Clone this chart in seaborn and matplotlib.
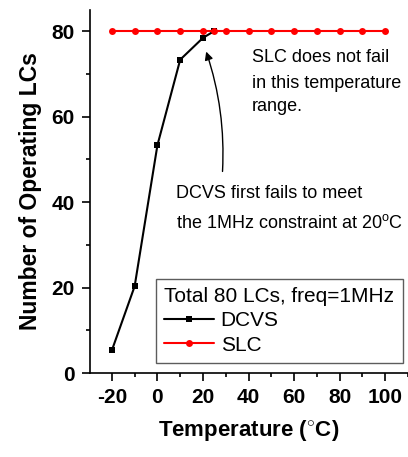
import matplotlib
matplotlib.use("Agg")
import matplotlib.pyplot as plt
from matplotlib.ticker import MultipleLocator
import seaborn as sns
import pandas as pd

# Operating logic clusters vs. temperature
dcvs_temp = [-20, -10, 0, 10, 20, 25]
dcvs_count = [5.3, 20.3, 53.3, 73.3, 78.4, 80]
slc_temp = [-20, -10, 0, 10, 20, 25, 30, 40, 50, 60, 70, 80, 90, 100]
slc_count = [80] * len(slc_temp)
x_ticks = [-20, 0, 20, 40, 60, 80, 100]
y_ticks = [0, 20, 40, 60, 80]

slc_note = ["SLC does not fail", "in this temperature", "range."]
dcvs_note = ["DCVS first fails to meet", "the 1MHz constraint at 20$^{\\rm o}$C"]

sns.set_style("ticks")
plt.rcParams["font.family"] = ["Liberation Sans", "DejaVu Sans"]
plt.rcParams["mathtext.fontset"] = "custom"
plt.rcParams["mathtext.rm"] = "Liberation Sans"
plt.rcParams["mathtext.bf"] = "Liberation Sans:bold"
plt.rcParams["axes.unicode_minus"] = False
for key in ["text.color", "axes.labelcolor", "xtick.color", "ytick.color",
            "xtick.labelcolor", "ytick.labelcolor"]:
    plt.rcParams[key] = "black"

df_dcvs = pd.DataFrame({"Temperature": dcvs_temp, "Count": dcvs_count, "Design": "DCVS"})
df_slc = pd.DataFrame({"Temperature": slc_temp, "Count": slc_count, "Design": "SLC"})

fig = plt.figure(figsize=(4.08, 4.57), dpi=100)
ax = fig.add_axes([0.2206, 0.1838, 0.7794, 0.7942])

sns.lineplot(data=df_dcvs, x="Temperature", y="Count", ax=ax, color="black",
             marker="s", markersize=4, markeredgewidth=0, linewidth=1.5,
             label="DCVS", estimator=None)
sns.lineplot(data=df_slc, x="Temperature", y="Count", ax=ax, color="#ff0000",
             marker="o", markersize=5, markeredgewidth=0, linewidth=1.5,
             label="SLC", estimator=None)

ax.set_xlim(-29.6, 110)
ax.set_ylim(0, 84.9)
ax.set_xticks(x_ticks)
ax.set_yticks(y_ticks)
ax.xaxis.set_minor_locator(MultipleLocator(10))
ax.yaxis.set_minor_locator(MultipleLocator(10))
ax.tick_params(which="major", length=6, width=1.2, labelsize=15, pad=5, color="black")
ax.tick_params(which="minor", length=3, width=1.2, color="black")
for lbl in ax.get_xticklabels() + ax.get_yticklabels():
    lbl.set_fontweight("bold")

for side in ["top", "right"]:
    ax.spines[side].set_visible(False)
for side in ["left", "bottom"]:
    ax.spines[side].set_linewidth(1.2)
    ax.spines[side].set_color("black")

ax.set_xlabel("Temperature ($^{\\circ}$C)", fontsize=16, fontweight="bold", labelpad=8)
ax.set_ylabel("Number of Operating LCs", fontsize=16.5, fontweight="bold", labelpad=7)

# annotation lines placed one baseline at a time
for text, y in zip(slc_note, [72.7, 66.6, 61.4]):
    ax.text(41.5, y, text, fontsize=13, va="baseline", ha="left")
for text, y in zip(dcvs_note, [40.9, 33.9]):
    ax.text(8.3, y, text, fontsize=13, va="baseline", ha="left")
ax.annotate("", xy=(21, 75.8), xytext=(28.5, 46.5),
            arrowprops=dict(arrowstyle="-|>", color="black", lw=1,
                            connectionstyle="arc3,rad=0.1", mutation_scale=12))

leg = ax.legend(title="Total 80 LCs, freq=1MHz", loc="lower left",
                bbox_to_anchor=(0.2075, 0.0275), borderaxespad=0, fontsize=15,
                title_fontsize=15, frameon=True, fancybox=False, handlelength=2.4,
                handletextpad=0.3, borderpad=0.4, labelspacing=0.25, alignment="left")
leg.get_frame().set_edgecolor("#333333")
leg.get_frame().set_linewidth(1.0)

fig.savefig("out.png", dpi=100)
